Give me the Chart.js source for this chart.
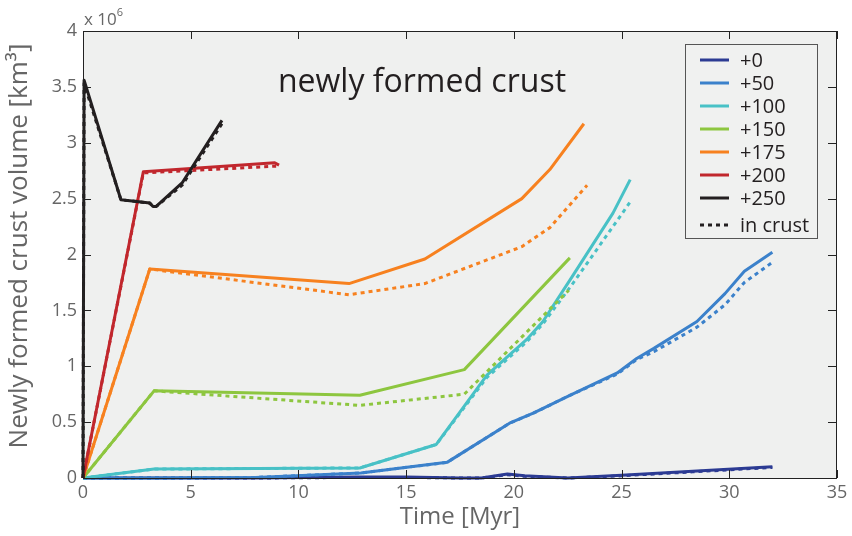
<!DOCTYPE html>
<html>
<head>
<meta charset="utf-8">
<script src="https://cdn.jsdelivr.net/npm/chart.js@4.4.0/dist/chart.umd.min.js"></script>
<style>
    html, body { margin: 0; padding: 0; background: #fff; }
</style>
</head>
<body>
<canvas id="chrtCrust" width="852" height="536"></canvas>
<script>
((d, c) => {
    const CHRT_CRUST = d.getElementById("chrtCrust");

    const seriesLabels = ["+0", "+50", "+100", "+150", "+175", "+200", "+250"];
    const seriesColors = ["#2c3b93", "#3b81cb", "#48c1c6", "#8dc63f", "#f7811f", "#c1272d", "#231f20"];
    const xTicks = [0, 5, 10, 15, 20, 25, 30, 35];
    const yTicks = [0, 0.5, 1, 1.5, 2, 2.5, 3, 3.5, 4];

    // time [Myr] / volume [x 10^6 km3]: total newly formed and the part in crust
    const time0 = [0, 3.3, 8, 12.7, 15, 17.5, 18.5, 19.7, 20.5, 22.5, 25, 28.3, 32];
    const total0 = [0, 0, 0, 0.01, 0.01, 0, 0, 0.035, 0.02, 0, 0.025, 0.06, 0.1];
    const crust0 = [0, 0, 0, 0.005, 0.005, 0, 0, 0.03, 0.015, 0, 0.02, 0.055, 0.095];

    const time50 = [0, 3.3, 8, 12.9, 16.9, 19.8, 20.9, 22.6, 24.8, 25.7, 26.5, 28.5, 29.8, 30.7, 32];
    const total50 = [0, 0, 0.005, 0.045, 0.14, 0.49, 0.58, 0.74, 0.94, 1.07, 1.16, 1.4, 1.65, 1.85, 2.02];
    const crust50 = [0, 0, 0.005, 0.045, 0.14, 0.49, 0.58, 0.74, 0.93, 1.06, 1.13, 1.35, 1.55, 1.75, 1.93];

    const time100 = [0, 3.3, 12.85, 16.4, 18.75, 20.6, 21.35, 22.7, 24.6, 25.4];
    const total100 = [0, 0.08, 0.09, 0.3, 0.92, 1.24, 1.4, 1.8, 2.37, 2.67];
    const crust100 = [0, 0.08, 0.09, 0.3, 0.9, 1.22, 1.38, 1.73, 2.25, 2.47];

    const time150 = [0, 3.3, 12.85, 17.7, 22.6];
    const total150 = [0, 0.78, 0.74, 0.97, 1.97];
    const crustTime150 = [0, 3.3, 12.85, 17.7, 22.55];
    const crust150 = [0, 0.78, 0.65, 0.75, 1.68];

    const time175 = [0, 3.1, 12.35, 15.87, 20.37, 21.67, 23.25];
    const total175 = [0, 1.87, 1.74, 1.96, 2.5, 2.76, 3.17];
    const crustTime175 = [0, 3.1, 12.35, 15.87, 20.37, 21.67, 23.4];
    const crust175 = [0, 1.87, 1.64, 1.74, 2.07, 2.24, 2.62];

    const time200 = [0, 2.8, 8.9, 9.1];
    const total200 = [0, 2.74, 2.82, 2.8];
    const crust200 = [0, 2.73, 2.79, 2.79];

    const time250 = [0, 0.05, 1.76, 3.1, 3.25, 3.4, 4.6, 6.45];
    const total250 = [0, 3.56, 2.49, 2.46, 2.43, 2.43, 2.64, 3.2];
    const crust250 = [0, 3.53, 2.49, 2.46, 2.43, 2.43, 2.62, 3.17];

    const runs = [
        { t: time0, v: total0, ct: time0, cv: crust0 },
        { t: time50, v: total50, ct: time50, cv: crust50 },
        { t: time100, v: total100, ct: time100, cv: crust100 },
        { t: time150, v: total150, ct: crustTime150, cv: crust150 },
        { t: time175, v: total175, ct: crustTime175, cv: crust175 },
        { t: time200, v: total200, ct: time200, cv: crust200 },
        { t: time250, v: total250, ct: time250, cv: crust250 }
    ];

    const FONT = "'Open Sans', 'DejaVu Sans', sans-serif";
    const DASH = [4, 4];
    const TICK_LEN = 8;

    function toPoints(xs, ys) {
        return xs.map((x, i) => ({ x: x, y: ys[i] }));
    }

    let datasets = [];
    let n = 0;
    runs.forEach((r, i) => {
        datasets.push({
            label: seriesLabels[i],
            data: toPoints(r.t, r.v),
            borderColor: seriesColors[i],
            borderWidth: 3,
            order: -(n++)
        });
        datasets.push({
            label: seriesLabels[i] + " in crust",
            data: toPoints(r.ct, r.cv),
            borderColor: seriesColors[i],
            borderWidth: 3,
            borderDash: DASH,
            order: -(n++)
        });
    });

    // grey plot box, inward ticks on all sides, y title and the x 10^6 factor
    const plotFrame = {
        id: "plotFrame",
        beforeDraw(chart) {
            const { ctx, chartArea: a } = chart;
            ctx.save();
            ctx.fillStyle = "#eff0ef";
            ctx.fillRect(a.left, a.top, a.right - a.left, a.bottom - a.top);

            ctx.fillStyle = "#666";
            ctx.textBaseline = "alphabetic";
            ctx.textAlign = "left";
            ctx.font = "17px " + FONT;
            ctx.fillText("x 10", a.left + 1, a.top - 6);
            const w = ctx.measureText("x 10").width;
            ctx.font = "11px " + FONT;
            ctx.fillText("6", a.left + 1 + w, a.top - 15);

            ctx.translate(20, 246);
            ctx.rotate(-Math.PI / 2);
            ctx.font = "26px " + FONT;
            ctx.textAlign = "center";
            ctx.textBaseline = "middle";
            ctx.fillText("Newly formed crust volume [km³]", 0, 0);
            ctx.restore();
        },
        afterDatasetsDraw(chart) {
            const { ctx, chartArea: a } = chart;
            const xs = chart.scales.x, ys = chart.scales.y;
            const L = Math.round(a.left), R = Math.round(a.right) - 1;
            const T = Math.round(a.top), B = Math.round(a.bottom);
            ctx.save();
            ctx.fillStyle = "#222";
            // frame
            ctx.fillRect(L, T, R - L + 1, 1);
            ctx.fillRect(L, B, R - L + 1, 1);
            ctx.fillRect(L, T, 1, B - T + 1);
            ctx.fillRect(R, T, 1, B - T + 1);
            // ticks
            xTicks.forEach(t => {
                const px = Math.round(xs.getPixelForValue(t));
                ctx.fillRect(px, T, 1, TICK_LEN);
                ctx.fillRect(px, B - TICK_LEN, 1, TICK_LEN);
            });
            yTicks.forEach(t => {
                const py = Math.round(ys.getPixelForValue(t));
                ctx.fillRect(L, py, TICK_LEN, 1);
                ctx.fillRect(R - TICK_LEN, py, TICK_LEN, 1);
            });

            ctx.fillStyle = "#231f20";
            ctx.font = "32px " + FONT;
            ctx.textAlign = "center";
            ctx.textBaseline = "alphabetic";
            ctx.fillText("newly formed crust", a.left + 339, a.top + 61);

            // legend box
            const lx = a.right - 152, ly = a.top + 13, lw = 132, lh = 194;
            ctx.fillStyle = "#f0f1f0";
            ctx.fillRect(lx, ly, lw, lh);
            ctx.strokeStyle = "#555";
            ctx.lineWidth = 1;
            ctx.strokeRect(lx + 0.5, ly + 0.5, lw, lh);
            ctx.font = "20px " + FONT;
            ctx.textAlign = "left";
            ctx.textBaseline = "middle";
            ctx.lineWidth = 3;
            const rows = seriesLabels.map((l, i) => ({ label: l, color: seriesColors[i], dash: [] }));
            rows.push({ label: "in crust", color: "#231f20", dash: DASH, gap: 4 });
            let ry = ly + 16;
            rows.forEach(r => {
                if (r.gap) ry += r.gap;
                ctx.strokeStyle = r.color;
                ctx.setLineDash(r.dash);
                ctx.beginPath();
                ctx.moveTo(lx + 15, ry);
                ctx.lineTo(lx + 44, ry);
                ctx.stroke();
                ctx.setLineDash([]);
                ctx.fillStyle = "#231f20";
                ctx.fillText(r.label, lx + 55, ry + 1);
                ry += 23;
            });
            ctx.restore();
        }
    };

    new Chart(CHRT_CRUST, {
        type: "line",
        data: { datasets: datasets },
        options: {
            responsive: false,
            animation: false,
            events: [],
            layout: { padding: { top: 31, right: 15, left: 0, bottom: 0 } },
            elements: {
                point: { radius: 0 },
                line: { tension: 0, borderCapStyle: "butt", borderJoinStyle: "round" }
            },
            datasets: { line: { clip: false } },
            plugins: {
                legend: { display: false },
                title: { display: false },
                tooltip: { enabled: false }
            },
            scales: {
                x: {
                    type: "linear",
                    min: 0,
                    max: 35,
                    afterFit: s => { s.height = 58; },
                    afterBuildTicks: s => { s.ticks = xTicks.map(v => ({ value: v })); },
                    grid: { display: false, drawTicks: false },
                    border: { display: false },
                    ticks: {
                        color: "#666",
                        font: { family: FONT, size: 18 },
                        padding: 4,
                        maxRotation: 0,
                        autoSkip: false,
                        callback: v => String(v)
                    },
                    title: {
                        display: true,
                        text: "Time [Myr]",
                        color: "#666",
                        font: { family: FONT, size: 24 },
                        padding: { top: 0, bottom: 4 }
                    }
                },
                y: {
                    type: "linear",
                    min: 0,
                    max: 4,
                    afterFit: s => { s.width = 83; },
                    afterBuildTicks: s => { s.ticks = yTicks.map(v => ({ value: v })); },
                    grid: { display: false, drawTicks: false },
                    border: { display: false },
                    ticks: {
                        color: "#666",
                        font: { family: FONT, size: 18 },
                        padding: 6,
                        autoSkip: false,
                        callback: v => String(v)
                    }
                }
            }
        },
        plugins: [plotFrame]
    });
})(document, console.log)
</script>
</body>
</html>
